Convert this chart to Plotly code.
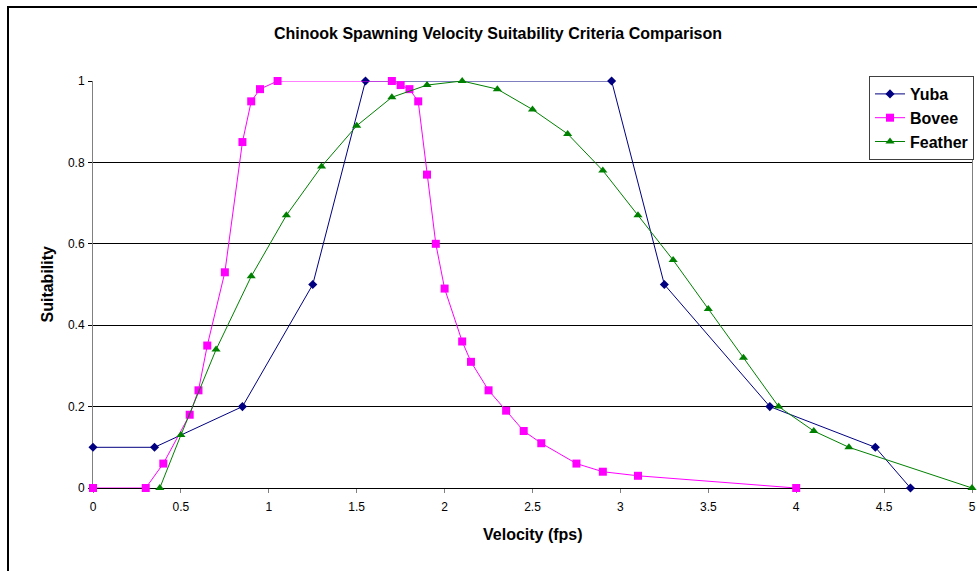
import plotly.graph_objects as go

# ---- data ----
yuba_x = [0, 0.35, 0.85, 1.25, 1.55, 2.95, 3.25, 3.85, 4.45, 4.65]
yuba_y = [0.1, 0.1, 0.2, 0.5, 1.0, 1.0, 0.5, 0.2, 0.1, 0.0]

bovee_x = [0, 0.30, 0.40, 0.55, 0.60, 0.65, 0.75, 0.85, 0.90, 0.95, 1.05,
           1.70, 1.75, 1.80, 1.85, 1.90, 1.95, 2.00, 2.10, 2.15, 2.25, 2.35,
           2.45, 2.55, 2.75, 2.90, 3.10, 4.00]
bovee_y = [0, 0, 0.06, 0.18, 0.24, 0.35, 0.53, 0.85, 0.95, 0.98, 1.0,
           1.0, 0.99, 0.98, 0.95, 0.77, 0.60, 0.49, 0.36, 0.31, 0.24, 0.19,
           0.14, 0.11, 0.06, 0.04, 0.03, 0.0]

feather_x = [0.38, 0.50, 0.70, 0.90, 1.10, 1.30, 1.50, 1.70, 1.90, 2.10, 2.30,
             2.50, 2.70, 2.90, 3.10, 3.30, 3.50, 3.70, 3.90, 4.10, 4.30, 5.00]
feather_y = [0.0, 0.13, 0.34, 0.52, 0.67, 0.79, 0.89, 0.96, 0.99, 1.0, 0.98,
             0.93, 0.87, 0.78, 0.67, 0.56, 0.44, 0.32, 0.20, 0.14, 0.10, 0.0]

x_ticks = [0, 0.5, 1, 1.5, 2, 2.5, 3, 3.5, 4, 4.5, 5]
y_ticks = [0, 0.2, 0.4, 0.6, 0.8, 1]

FONT = "Liberation Sans, Arial, sans-serif"

W, H = 977, 571
L, T = 93, 81
PW, PH = 879, 407

fig = go.Figure()
fig.add_trace(go.Scatter(x=yuba_x, y=yuba_y, name="<b>Yuba</b>", mode="lines+markers",
                         line=dict(color="#000080", width=1),
                         marker=dict(symbol="diamond", size=7, color="#000080"),
                         cliponaxis=False))
fig.add_trace(go.Scatter(x=bovee_x, y=bovee_y, name="<b>Bovee</b>", mode="lines+markers",
                         line=dict(color="#FF00FF", width=1),
                         marker=dict(symbol="square", size=8, color="#FF00FF"),
                         cliponaxis=False))
fig.add_trace(go.Scatter(x=feather_x, y=feather_y, name="<b>Feather</b>", mode="lines+markers",
                         line=dict(color="#008000", width=1),
                         marker=dict(symbol="triangle-up", size=8, color="#008000"),
                         cliponaxis=False))

fig.update_layout(
    width=W, height=H,
    margin=dict(l=L, r=W - L - PW, t=T, b=H - T - PH, autoexpand=False),
    paper_bgcolor="white", plot_bgcolor="white",
    font=dict(family=FONT, color="black"),
    title=dict(text="<b>Chinook Spawning Velocity Suitability Criteria Comparison</b>",
               font=dict(size=16, family=FONT, color="black"),
               x=(498 - L) / PW, xref="paper", xanchor="center",
               y=1 - 33 / H, yref="container", yanchor="middle"),
    xaxis=dict(range=[0, 5], tickvals=x_ticks, showgrid=False, zeroline=False,
               showline=True, linecolor="black", linewidth=1,
               ticks="outside", ticklen=4, tickcolor="#808080",
               tickfont=dict(size=12, family=FONT, color="black"),
               ticklabelstandoff=4, layer="below traces", automargin=False),
    xaxis2=dict(range=[0, 5], overlaying="x", anchor="y", side="top",
                showgrid=False, zeroline=False, showticklabels=False, ticks="",
                showline=True, linecolor="#808080", linewidth=1, layer="below traces"),
    yaxis=dict(range=[0, 1], tickvals=y_ticks, showgrid=True, gridcolor="black",
               gridwidth=1, zeroline=False, showline=True, linecolor="#808080",
               linewidth=1, mirror=True, ticks="outside", ticklen=4, tickcolor="black",
               tickfont=dict(size=12, family=FONT, color="black"),
               ticklabelstandoff=1, layer="below traces", automargin=False),
    showlegend=True,
    legend=dict(x=(869 - L) / PW, y=(T + PH - 76) / PH, xanchor="left", yanchor="top",
                bgcolor="white", bordercolor="#404040", borderwidth=1,
                font=dict(size=16, family=FONT, color="black"),
                tracegroupgap=0, itemwidth=30),
    annotations=[
        dict(text="<b>Velocity (fps)</b>", x=0.5, y=(T + PH - 534) / PH, xref="paper",
             yref="paper", showarrow=False, xanchor="center", yanchor="middle",
             font=dict(size=16, family=FONT, color="black")),
        dict(text="<b>Suitability</b>", x=(47 - L) / PW, y=0.5, xref="paper",
             yref="paper", showarrow=False, xanchor="center", yanchor="middle",
             textangle=-90, font=dict(size=16, family=FONT, color="black")),
    ],
    shapes=[
        dict(type="path", xref="paper", yref="paper",
             path="M %.4f,%.4f L %.4f,%.4f L %.4f,%.4f" % (
                 (8 - L) / PW, (T + PH - H - 10) / PH,
                 (8 - L) / PW, (T + PH - 7) / PH,
                 (W + 10 - L) / PW, (T + PH - 7) / PH),
             line=dict(color="black", width=2)),
    ],
)

fig.write_html("out.html",
               config={"displayModeBar": False, "responsive": False},
               post_script="document.body.style.margin='0';document.body.style.overflow='hidden';")
